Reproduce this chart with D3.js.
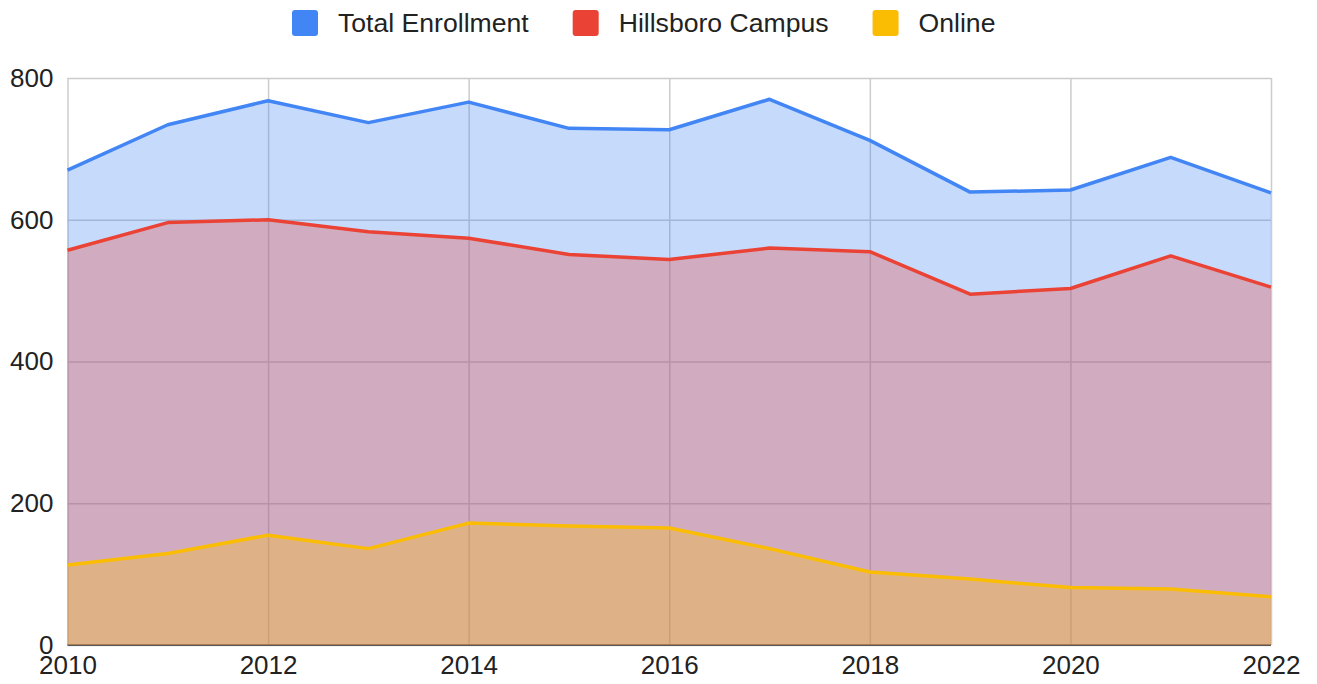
<!DOCTYPE html>
<html>
<head>
<meta charset="utf-8">
<script src="https://cdn.jsdelivr.net/npm/d3@7"></script>
<style>
  body { margin: 0; background: #fff; }
  svg { font-family: Arial, "Liberation Sans", sans-serif; }
  .tick text { font-size: 26px; fill: #222; }
  .legend text { font-size: 26.6px; fill: #222; }
</style>
</head>
<body>
<svg width="1317" height="684"></svg>
<script>
const years = [2010, 2011, 2012, 2013, 2014, 2015, 2016, 2017, 2018, 2019, 2020, 2021, 2022]
const totalEnrollment = [670, 734, 768, 737, 766, 729, 727, 770, 712, 639, 642, 688, 638]
const hillsboroCampus = [557, 596, 600, 583, 574, 551, 544, 560, 555, 495, 503, 549, 505]
const online = [113, 129, 155, 136, 172, 168, 165, 136, 103, 93, 81, 79, 68]
const seriesNames = ['Total Enrollment', 'Hillsboro Campus', 'Online']
const seriesColors = ['#4285f4', '#ea4335', '#fbbc04']
const yTicks = [0, 200, 400, 600, 800]
const xTicks = [2010, 2012, 2014, 2016, 2018, 2020, 2022]

const svg = d3.select('svg')
const margin = { top: 78, right: 46, bottom: 39, left: 67.5 }
const width = +svg.attr('width')
const height = +svg.attr('height')
const innerWidth = width - margin.left - margin.right
const innerHeight = height - margin.top - margin.bottom

const series = [totalEnrollment, hillsboroCampus, online]

const xScale = d3.scaleLinear()
  .domain([2010, 2022])
  .range([0, innerWidth])

const yScale = d3.scaleLinear()
  .domain([0, 800])
  .range([innerHeight, 0])

const g = svg.append('g')
  .attr('transform', `translate(${margin.left}, ${margin.top})`)

// grid + labels
const yAxisGroup = g.append('g')
  .call(d3.axisLeft(yScale).tickValues(yTicks).tickSize(-innerWidth).tickPadding(14))
yAxisGroup.select('.domain').remove()
yAxisGroup.selectAll('.tick line').attr('stroke', '#ccc').attr('stroke-width', 1.5)

const xAxisGroup = g.append('g')
  .attr('transform', `translate(0, ${innerHeight})`)
  .call(d3.axisBottom(xScale).tickValues(xTicks).tickFormat(d3.format('d')).tickSize(-innerHeight).tickPadding(11))
xAxisGroup.select('.domain').remove()
xAxisGroup.selectAll('.tick line').attr('stroke', '#ccc').attr('stroke-width', 1.5)

g.append('line')
  .attr('x1', 0).attr('x2', innerWidth)
  .attr('y1', yScale(0)).attr('y2', yScale(0))
  .attr('stroke', '#333').attr('stroke-width', 1.5)

const area = d3.area()
  .x((d, i) => xScale(years[i]))
  .y0(yScale(0))
  .y1(d => yScale(d))

const line = d3.line()
  .x((d, i) => xScale(years[i]))
  .y(d => yScale(d))

g.selectAll('.area').data(series)
  .enter().append('path')
  .attr('class', 'area')
  .attr('d', area)
  .attr('fill', (d, i) => seriesColors[i])
  .attr('fill-opacity', 0.3)

g.selectAll('.line').data(series)
  .enter().append('path')
  .attr('class', 'line')
  .attr('d', line)
  .attr('fill', 'none')
  .attr('stroke', (d, i) => seriesColors[i])
  .attr('stroke-width', 3.5)
  .attr('stroke-linejoin', 'round')

// legend
const legend = svg.append('g').attr('class', 'legend')
let lx = 292
seriesNames.forEach((name, i) => {
  legend.append('rect')
    .attr('x', lx).attr('y', 10)
    .attr('width', 26).attr('height', 26)
    .attr('rx', 3)
    .attr('fill', seriesColors[i])
  const t = legend.append('text')
    .attr('x', lx + 46).attr('y', 23)
    .attr('dy', '0.35em')
    .text(name)
  lx += 46 + t.node().getComputedTextLength() + 44
})
</script>
</body>
</html>
